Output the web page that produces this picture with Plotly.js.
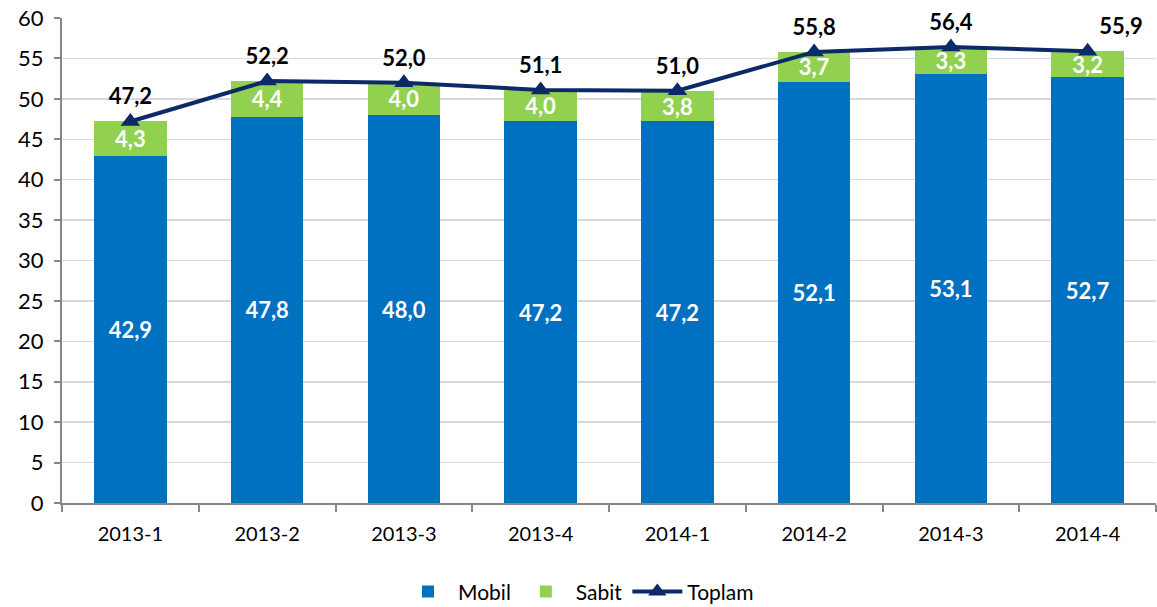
<!DOCTYPE html>
<html>
<head>
<meta charset="utf-8">
<script src="https://cdn.plot.ly/plotly-3.0.1.min.js"></script>
<style>html,body{margin:0;padding:0;background:#fff;}#chart{width:1157px;height:607px;}</style>
</head>
<body>
<div id="chart"></div>
<script>
const categories = ["2013-1","2013-2","2013-3","2013-4","2014-1","2014-2","2014-3","2014-4"];
const mobil = [42.9, 47.8, 48.0, 47.2, 47.2, 52.1, 53.1, 52.7];
const sabit = [4.3, 4.4, 4.0, 4.0, 3.8, 3.7, 3.3, 3.2];
const toplam = [47.2, 52.2, 52.0, 51.1, 51.0, 55.8, 56.4, 55.9];
const yTicks = [0,5,10,15,20,25,30,35,40,45,50,55,60];

const fmt = v => v.toFixed(1).replace('.', ',');
const FONT = 'Lato, "Open Sans", sans-serif';

const traces = [
  {
    type: 'bar', name: 'Mobil', x: categories, y: mobil,
    marker: {color: '#0070c0'},
    text: mobil.map(fmt), textposition: 'inside', insidetextanchor: 'middle',
    textfont: {color: '#ffffff', size: 22, family: FONT, weight: 'bold'},
    hoverinfo: 'none'
  },
  {
    type: 'bar', name: 'Sabit', x: categories, y: sabit,
    marker: {color: '#92d050'},
    text: sabit.map(fmt), textposition: 'inside', insidetextanchor: 'middle',
    textfont: {color: '#ffffff', size: 22, family: FONT, weight: 'bold'},
    hoverinfo: 'none'
  },
  {
    type: 'scatter', mode: 'lines+markers+text', name: 'Toplam', x: categories, y: toplam,
    line: {color: '#0c2a67', width: 4},
    marker: {symbol: 'triangle-up', size: 17, color: '#0c2a67'},
    text: toplam.map(fmt),
    textposition: categories.map((c, i) => i === categories.length - 1 ? 'top right' : 'top center'),
    textfont: {color: '#000000', size: 22, family: FONT, weight: 'bold'},
    cliponaxis: false,
    hoverinfo: 'none'
  }
];

const layout = {
  width: 1157, height: 607,
  margin: {l: 62, r: 1, t: 18, b: 104},
  paper_bgcolor: '#ffffff', plot_bgcolor: '#ffffff',
  barmode: 'stack', bargap: 0.47,
  font: {family: FONT, size: 20, color: '#000000'},
  uniformtext: {mode: 'show', minsize: 22},
  showlegend: true,
  legend: {orientation: 'h', x: 0.5, xanchor: 'center', xref: 'container',
           yref: 'container', y: 0.025, yanchor: 'middle',
           font: {size: 21, family: FONT}, traceorder: 'normal', itemwidth: 50},
  xaxis: {
    type: 'category', tickson: 'boundaries', ticks: 'outside', ticklen: 7,
    tickcolor: '#868686', tickwidth: 2, automargin: false,
    showline: true, linecolor: '#868686', linewidth: 2,
    showgrid: false, tickfont: {size: 20, family: FONT}, ticklabelstandoff: 12
  },
  yaxis: {
    range: [0, 60], tickvals: yTicks, ticks: 'outside', ticklen: 6,
    tickcolor: '#868686', tickwidth: 2, automargin: false,
    showline: true, linecolor: '#868686', linewidth: 2,
    gridcolor: '#d9d9d9', gridwidth: 1.5, zeroline: false,
    tickfont: {size: 22, family: FONT}, ticklabelstandoff: 6
  }
};

Plotly.newPlot('chart', traces, layout, {displayModeBar: false, staticPlot: true});
</script>
</body>
</html>
